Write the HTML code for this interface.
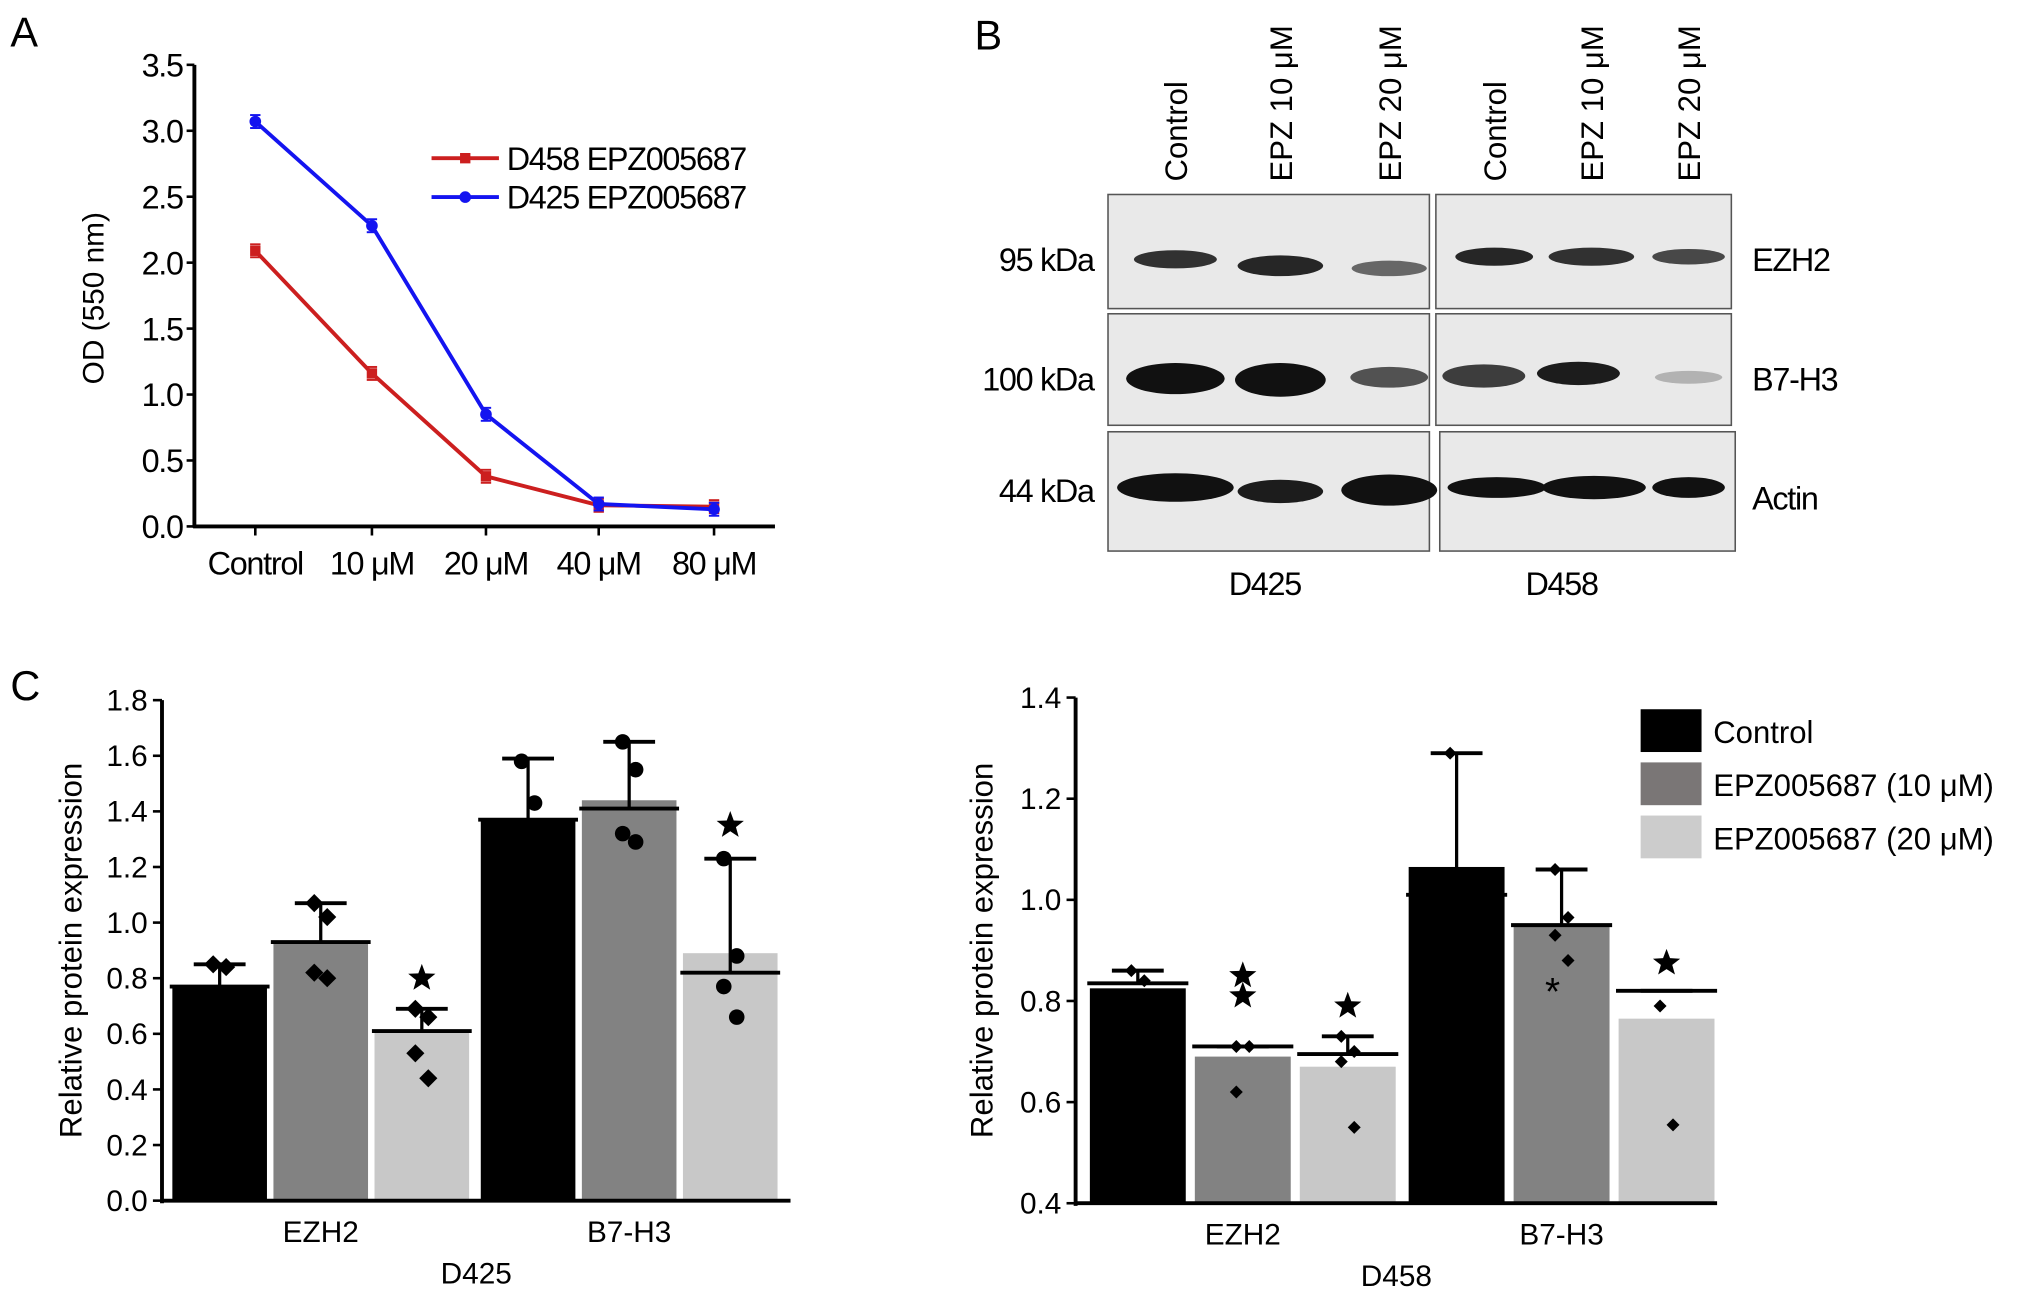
<!DOCTYPE html>
<html><head><meta charset="utf-8">
<style>
html,body{margin:0;padding:0;background:#fff;}
svg{display:block;font-family:"Liberation Sans",sans-serif;}
.cond{letter-spacing:-1px;}
</style></head>
<body>
<svg id="fig" width="2032" height="1294" viewBox="0 0 1568 998" preserveAspectRatio="none" xmlns="http://www.w3.org/2000/svg">
<g id="panelA"></g>
<g id="panelB"></g>
<g id="panelC1"></g>
<g id="panelC2"></g>
</svg>
<script>
// ---------- Panel A data ----------
const aCategories = ["Control","10 \u03bcM","20 \u03bcM","40 \u03bcM","80 \u03bcM"];
const aD458 = [2.09,1.16,0.38,0.16,0.15];
const aD425 = [3.07,2.28,0.85,0.17,0.13];
const aTicks = ["0.0","0.5","1.0","1.5","2.0","2.5","3.0","3.5"];

// ---------- Panel C data ----------
const cGroups = ["EZH2","B7-H3"];
const cSeries = ["Control","EPZ005687 (10 \u03bcM)","EPZ005687 (20 \u03bcM)"];
const d425Bars = [[0.77,0.93,0.61],[1.37,1.44,0.89]];
const d425Means = [[0.77,0.93,0.61],[1.37,1.41,0.82]];
const d425Err = [[0.85,1.07,0.69],[1.59,1.65,1.23]];
const d425Points = [[[0.85,0.84],[1.07,1.02,0.82,0.80],[0.69,0.66,0.53,0.44]],[[1.58,1.43],[1.65,1.55,1.32,1.29],[1.23,0.88,0.77,0.66]]];
const d425Stars = [[null,null,0.80],[null,null,1.35]];
const d425Ticks = ["0.0","0.2","0.4","0.6","0.8","1.0","1.2","1.4","1.6","1.8"];

const d458Bars = [[0.825,0.69,0.67],[1.065,0.95,0.765]];
const d458Means = [[0.835,0.71,0.695],[1.01,0.95,0.82]];
const d458Err = [[0.86,0.71,0.73],[1.29,1.06,0.82]];
const d458Points = [[[0.86,0.84],[0.71,0.71,0.62],[0.73,0.70,0.68,0.55]],[[1.29],[1.06,0.965,0.93,0.88],[0.79,0.555]]];
const d458Stars = [[null,[0.81,0.85],[0.79]],[null,null,[0.875]]];
const d458Ticks = ["0.4","0.6","0.8","1.0","1.2","1.4"];

const NS="http://www.w3.org/2000/svg";
function mk(parent,tag,attrs,text){const e=document.createElementNS(NS,tag);for(const k in attrs)e.setAttribute(k,attrs[k]);if(text!==undefined)e.textContent=text;parent.appendChild(e);return e;}

// ---------- Panel A ----------
(function(){
const g=document.getElementById('panelA');
const x0=150,x1=598,yTop=50,yBot=406,maxV=3.5;
const xs=[197,287,375,462,551];
const y=v=>yBot-(v/maxV)*(yBot-yTop);
let t=mk(g,'text',{x:8,y:36,'font-size':32},'A');

mk(g,'line',{x1:x0,y1:yTop,x2:x0,y2:yBot+1,stroke:'#000','stroke-width':3});
mk(g,'line',{x1:x0-1,y1:yBot,x2:x1,y2:yBot,stroke:'#000','stroke-width':3});
aTicks.forEach((lab,i)=>{const v=parseFloat(lab);const yy=y(v);
 mk(g,'line',{x1:x0-6,y1:yy,x2:x0,y2:yy,stroke:'#000','stroke-width':2});
 const e=mk(g,'text',{x:x0-9,y:yy+9,'font-size':25,'text-anchor':'end',class:'cond'},lab);
 });
aCategories.forEach((c,i)=>{
 mk(g,'line',{x1:xs[i],y1:yBot,x2:xs[i],y2:yBot+7,stroke:'#000','stroke-width':2});
 const e=mk(g,'text',{x:xs[i],y:443,'font-size':25,'text-anchor':'middle',class:'cond'},c);
 });
const yt=mk(g,'text',{x:0,y:0,'font-size':23,'text-anchor':'middle',transform:'translate(80,230) rotate(-90)'},'OD (550 nm)');

function series(vals,col,name,sq){
 const pts=vals.map((v,i)=>xs[i]+','+y(v)).join(' ');
 const l=mk(g,'polyline',{points:pts,fill:'none',stroke:col,'stroke-width':3});
 
 vals.forEach((v,i)=>{
  mk(g,'line',{x1:xs[i]-4,y1:y(v)-5,x2:xs[i]+4,y2:y(v)-5,stroke:col,'stroke-width':1.5});
  mk(g,'line',{x1:xs[i]-4,y1:y(v)+5,x2:xs[i]+4,y2:y(v)+5,stroke:col,'stroke-width':1.5});
  const p=sq?mk(g,'rect',{x:xs[i]-4,y:y(v)-4,width:8,height:8,fill:col}):mk(g,'circle',{cx:xs[i],cy:y(v),r:4.5,fill:col});
  });
}
series(aD458,'#cc1f1f','d458',true);
series(aD425,'#1414f0','d425',false);
const lg=mk(g,'g',{});
mk(lg,'line',{x1:333,y1:122,x2:385,y2:122,stroke:'#cc1f1f','stroke-width':3});
mk(lg,'rect',{x:355,y:118,width:8,height:8,fill:'#cc1f1f'});
mk(lg,'text',{x:391,y:131,'font-size':25,class:'cond'},'D458 EPZ005687');
mk(lg,'line',{x1:333,y1:152,x2:385,y2:152,stroke:'#1414f0','stroke-width':3});
mk(lg,'circle',{cx:359,cy:152,r:4.5,fill:'#1414f0'});
mk(lg,'text',{x:391,y:161,'font-size':25,class:'cond'},'D425 EPZ005687');
})();

// ---------- Panel B ----------
(function(){
const g=document.getElementById('panelB');
const t=mk(g,'text',{x:752,y:38,'font-size':32},'B');

const lanes=["Control","EPZ 10 \u03bcM","EPZ 20 \u03bcM","Control","EPZ 10 \u03bcM","EPZ 20 \u03bcM"];
const lx=[907,988,1072,1153,1228,1303];
lanes.forEach((l,i)=>{const e=mk(g,'text',{x:0,y:0,'font-size':24,'text-anchor':'start',transform:`translate(${lx[i]+9},140) rotate(-90)`},l);
 });
const boxes=[[855,150,248,88],[1108,150,228,88],[855,242,248,86],[1108,242,228,86],[855,333,248,92],[1111,333,228,92]];
boxes.forEach(b=>{const r=mk(g,'rect',{x:b[0],y:b[1],width:b[2],height:b[3],fill:'#e9e9e9',stroke:'#555','stroke-width':1.2});
 });
const bands=[[907,200,32,7,0.85],[988,205,33,8,0.9],[1072,207,29,6,0.6],[1153,198,30,7,0.9],[1228,198,33,7,0.85],[1303,198,28,6,0.75],
[907,292,38,12,1],[988,293,35,13,1],[1072,291,30,8,0.7],[1145,290,32,9,0.8],[1218,288,32,9,0.95],[1303,291,26,5,0.25],
[907,376,45,11,1],[988,379,33,9,0.95],[1072,378,37,12,1],[1155,376,38,8,1],[1230,376,40,9,1],[1303,376,28,8,1]];
bands.forEach(b=>{const e=mk(g,'ellipse',{cx:b[0],cy:b[1],rx:b[2],ry:b[3],fill:'#111','fill-opacity':b[4]});
 });
[["95 kDa",209],["100 kDa",301],["44 kDa",387]].forEach(k=>{const e=mk(g,'text',{x:844,y:k[1],'font-size':25,'text-anchor':'end',class:'cond'},k[0]);
 });
[["EZH2",209],["B7-H3",301],["Actin",393]].forEach(k=>{const e=mk(g,'text',{x:1352,y:k[1],'font-size':25,class:'cond'},k[0]);
 });
[["D425",976],["D458",1205]].forEach(k=>{const e=mk(g,'text',{x:k[1],y:459,'font-size':25,'text-anchor':'middle',class:'cond'},k[0]);
 });
})();

// ---------- Panel C ----------
const colors=['#000000','#828282','#c8c8c8'];
function diamond(g,cx,cy,s){return mk(g,'polygon',{points:`${cx},${cy-s} ${cx+s},${cy} ${cx},${cy+s} ${cx-s},${cy}`,fill:'#000'});}
function star(g,cx,cy,r){let p=[];for(let i=0;i<10;i++){const a=-Math.PI/2+i*Math.PI/5;const rr=i%2?r*0.42:r;p.push((cx+rr*Math.cos(a)).toFixed(1)+','+(cy+rr*Math.sin(a)).toFixed(1));}return mk(g,'polygon',{points:p.join(' '),fill:'#000'});}
function barChart(cfg){
 const g=document.getElementById(cfg.id);
 const y=v=>cfg.yBot-(v-cfg.min)/(cfg.max-cfg.min)*(cfg.yBot-cfg.yTop);
 cfg.ticks.forEach(lab=>{const v=parseFloat(lab);const yy=y(v);
  mk(g,'line',{x1:cfg.x0-7,y1:yy,x2:cfg.x0,y2:yy,stroke:'#000','stroke-width':2});
  const e=mk(g,'text',{x:cfg.x0-11,y:yy+8,'font-size':23,'text-anchor':'end'},lab);
  });
 const bw=cfg.bw;
 cGroups.forEach((grp,gi)=>{
  for(let si=0;si<3;si++){
   const bx=cfg.gx[gi]+si*cfg.step;const cx=bx+bw/2;
   const v=cfg.bars[gi][si];
   const r=mk(g,'rect',{x:bx,y:y(v),width:bw,height:cfg.yBot-y(v),fill:colors[si]});
   
   const ey=y(cfg.err[gi][si]);
   mk(g,'line',{x1:cx,y1:y(cfg.means[gi][si]),x2:cx,y2:ey,stroke:'#000','stroke-width':2.5});
   mk(g,'line',{x1:cx-20,y1:ey,x2:cx+20,y2:ey,stroke:'#000','stroke-width':3});
   const ml=mk(g,'line',{x1:bx-2,y1:y(cfg.means[gi][si]),x2:bx+bw+2,y2:y(cfg.means[gi][si]),stroke:'#000','stroke-width':3});
   
   cfg.points[gi][si].forEach((pv,pi)=>{const px=cx+((pi%2)?5:-5);
    const p=cfg.circ&&gi==1?mk(g,'circle',{cx:px,cy:y(pv),r:6,fill:'#000'}):diamond(g,px,y(pv),cfg.ds);
    });
   let st=cfg.stars[gi][si];
   if(st!==null){(Array.isArray(st)?st:[st]).forEach(sv=>{const s=star(g,cx,y(sv),11);
    });}
  }
  const e=mk(g,'text',{x:cfg.gx[gi]+cfg.step+bw/2,y:cfg.yBot+32,'font-size':23,'text-anchor':'middle'},grp);
  
 });
 mk(g,'line',{x1:cfg.x0,y1:cfg.yTop,x2:cfg.x0,y2:cfg.yBot+2,stroke:'#000','stroke-width':3});
 mk(g,'line',{x1:cfg.x0-1,y1:cfg.yBot,x2:cfg.x1,y2:cfg.yBot,stroke:'#000','stroke-width':3});
 const yt=mk(g,'text',{x:0,y:0,'font-size':24,'text-anchor':'middle',transform:`translate(${cfg.titleX},${(cfg.yTop+cfg.yBot)/2}) rotate(-90)`},'Relative protein expression');
 
 const xt=mk(g,'text',{x:(cfg.x0+cfg.x1)/2,y:cfg.yBot+64,'font-size':23,'text-anchor':'middle'},cfg.xTitle);
 
 return g;
}
const gC1=barChart({id:'panelC1',x0:125,x1:610,yTop:540,yBot:926,min:0,max:1.8,gx:[133,371],step:78,bw:73,bars:d425Bars,means:d425Means,err:d425Err,points:d425Points,stars:d425Stars,ticks:d425Ticks,titleX:63,xTitle:'D425',circ:true,ds:7});
const lc=mk(gC1,'text',{x:8,y:540,'font-size':32},'C');

const gC2=barChart({id:'panelC2',x0:830,x1:1325,yTop:538,yBot:928,min:0.4,max:1.4,gx:[841,1087],step:81,bw:74,bars:d458Bars,means:d458Means,err:d458Err,points:d458Points,stars:d458Stars,ticks:d458Ticks,titleX:766,xTitle:'D458',circ:false,ds:5});
const ast=mk(gC2,'text',{x:1198,y:775,'font-size':30,'text-anchor':'middle'},'*');

const leg=mk(gC2,'g',{});
const legCols=['#000000','#7a7676','#cccccc'];
cSeries.forEach((s,i)=>{const yy=547+i*41;
 const r=mk(leg,'rect',{x:1266,y:yy,width:47,height:33,fill:legCols[i]});
 
 const tx=mk(leg,'text',{x:1322,y:yy+26,'font-size':24},s);
 });
</script>
</body></html>
